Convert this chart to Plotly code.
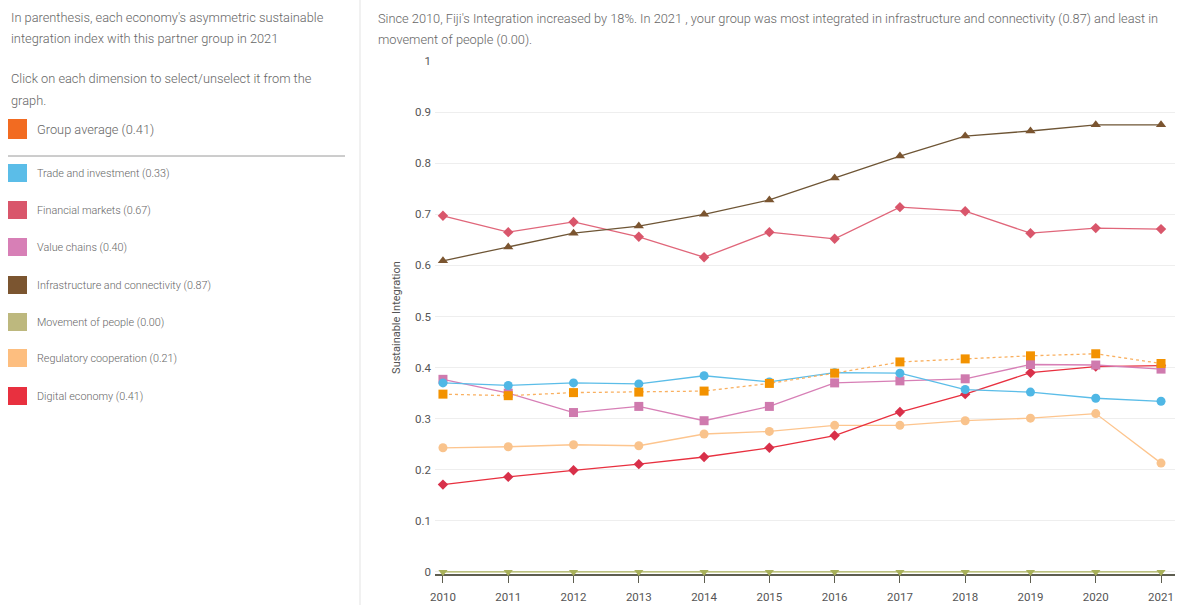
import plotly.graph_objects as go

years = [2010, 2011, 2012, 2013, 2014, 2015, 2016, 2017, 2018, 2019, 2020, 2021]

group_average = [0.348, 0.345, 0.351, 0.352, 0.354, 0.369, 0.389, 0.411, 0.417, 0.423, 0.427, 0.408]
trade_investment = [0.370, 0.365, 0.370, 0.368, 0.384, 0.372, 0.390, 0.389, 0.357, 0.352, 0.340, 0.334]
financial_markets = [0.697, 0.665, 0.685, 0.656, 0.616, 0.665, 0.652, 0.714, 0.706, 0.663, 0.673, 0.671]
value_chains = [0.377, 0.350, 0.312, 0.324, 0.296, 0.324, 0.370, 0.374, 0.378, 0.406, 0.405, 0.397]
infrastructure = [0.609, 0.636, 0.663, 0.677, 0.700, 0.728, 0.771, 0.814, 0.853, 0.863, 0.875, 0.875]
movement_people = [0, 0, 0, 0, 0, 0, 0, 0, 0, 0, 0, 0]
regulatory = [0.243, 0.245, 0.249, 0.247, 0.270, 0.275, 0.287, 0.287, 0.296, 0.301, 0.310, 0.213]
digital_economy = [0.171, 0.186, 0.199, 0.211, 0.225, 0.243, 0.267, 0.313, 0.348, 0.390, 0.402, 0.404]

legend_items = [
    ("Trade and investment (0.33)", "#5BBDE8"),
    ("Financial markets (0.67)", "#D9566B"),
    ("Value chains (0.40)", "#D77FB6"),
    ("Infrastructure and connectivity (0.87)", "#7B5530"),
    ("Movement of people (0.00)", "#BDB87E"),
    ("Regulatory cooperation (0.21)", "#FDBE7F"),
    ("Digital economy (0.41)", "#E8303F"),
]

series = [
    ("Movement of people", movement_people, "#A9B15A", "#A9B15A", "triangle-down", 8, "solid"),
    ("Regulatory cooperation", regulatory, "#FDC58E", "#F9C38C", "circle", 9, "solid"),
    ("Digital economy", digital_economy, "#E8303F", "#D8304A", "diamond", 8, "solid"),
    ("Value chains", value_chains, "#D77FB6", "#CF7AAE", "square", 9, "solid"),
    ("Trade and investment", trade_investment, "#5BBDE8", "#4FB7E5", "circle", 9, "solid"),
    ("Financial markets", financial_markets, "#E0667A", "#D9566B", "diamond", 8, "solid"),
    ("Infrastructure and connectivity", infrastructure, "#6E5535", "#7B5530", "triangle-up", 9, "solid"),
    ("Group average", group_average, "#F9B060", "#F39200", "square", 9, "3px,3px"),
]

fig = go.Figure()
for name, vals, lc, mc, sym, sz, dash in series:
    fig.add_trace(go.Scatter(
        x=years, y=vals, name=name, mode="lines+markers",
        line=dict(color=lc, width=1.3, dash=dash),
        marker=dict(color=mc, symbol=sym, size=sz),
        cliponaxis=False, showlegend=False,
    ))

W, H = 1180, 605
ML, MR, MT, MB = 435, 5, 61, 31
PW, PH = W - ML - MR, H - MT - MB
grey = "#666666"
fnt = "Roboto, Arial, sans-serif"

fig.update_layout(
    width=W, height=H,
    margin=dict(l=ML, r=MR, t=MT, b=MB, autoexpand=False),
    paper_bgcolor="white", plot_bgcolor="white",
    font=dict(family=fnt, color=grey, size=11),
    xaxis=dict(
        range=[2009.878, 2021.214], tickmode="array", tickvals=years,
        ticktext=[str(y) for y in years], automargin=False, layer="below traces",
        showgrid=False, zeroline=False,
        showline=True, linecolor="#5E5E50", linewidth=2,
        ticks="outside", ticklen=7, tickcolor="#5E5E50", tickwidth=1,
        tickfont=dict(size=11.5, color="#555555"), ticklabelstandoff=4,
    ),
    yaxis=dict(
        range=[-0.004, 1], tickvals=[0, 0.1, 0.2, 0.3, 0.4, 0.5, 0.6, 0.7, 0.8, 0.9, 1],
        ticktext=["0", "0.1", "0.2", "0.3", "0.4", "0.5", "0.6", "0.7", "0.8", "0.9", "1"],
        showgrid=True, gridcolor="#EEEEEE", gridwidth=1, zeroline=False, automargin=False,
        ticks="", tickfont=dict(size=11.5, color="#555555"), ticklabelstandoff=3,
        title=dict(text="Sustainable Integration", font=dict(size=11, color="#555555"), standoff=12),
    ),
)

def px_x(x):
    return (x - ML) / PW

def px_y(y):
    return (H - MB - y) / PH

annotations = []
shapes = []

header = [
    ("In parenthesis, each economy's asymmetric sustainable", 17),
    ("integration index with this partner group in 2021", 39),
    ("Click on each dimension to select/unselect it from the", 78),
    ("graph.", 100),
]
for txt, y in header:
    annotations.append(dict(text=txt, x=px_x(9), y=px_y(y), xref="paper", yref="paper",
                            xanchor="left", yanchor="middle", showarrow=False,
                            font=dict(size=12.8, color=grey, family=fnt, weight=300)))

shapes.append(dict(type="rect", xref="paper", yref="paper",
                   x0=px_x(8), x1=px_x(27), y0=px_y(139), y1=px_y(119),
                   fillcolor="#F26B21", line=dict(width=0)))
annotations.append(dict(text="Group average (0.41)", x=px_x(35), y=px_y(129), xref="paper", yref="paper",
                        xanchor="left", yanchor="middle", showarrow=False,
                        font=dict(size=12.8, color=grey, family=fnt, weight=300)))
shapes.append(dict(type="line", xref="paper", yref="paper",
                   x0=px_x(8), x1=px_x(345), y0=px_y(156), y1=px_y(156),
                   line=dict(color="#9A9A9A", width=1)))

item_ys = [173, 210, 247, 285, 322, 358, 396]
for (txt, col), y in zip(legend_items, item_ys):
    shapes.append(dict(type="rect", xref="paper", yref="paper",
                       x0=px_x(8), x1=px_x(27), y0=px_y(y + 9), y1=px_y(y - 9),
                       fillcolor=col, line=dict(width=0)))
    annotations.append(dict(text=txt, x=px_x(35), y=px_y(y), xref="paper", yref="paper",
                            xanchor="left", yanchor="middle", showarrow=False,
                            font=dict(size=10.8, color=grey, family=fnt, weight=300)))

shapes.append(dict(type="line", xref="paper", yref="paper",
                   x0=px_x(360), x1=px_x(360), y0=px_y(605), y1=px_y(0),
                   line=dict(color="#E3E3E3", width=1)))

desc = [
    ("Since 2010, Fiji's Integration increased by 18%. In 2021 , your group was most integrated in infrastructure and connectivity (0.87) and least in", 18),
    ("movement of people (0.00).", 40),
]
for txt, y in desc:
    annotations.append(dict(text=txt, x=px_x(376), y=px_y(y), xref="paper", yref="paper",
                            xanchor="left", yanchor="middle", showarrow=False,
                            font=dict(size=12.8, color=grey, family=fnt, weight=300)))

fig.update_layout(annotations=annotations, shapes=shapes)
fig.write_html("out.html", config={"displayModeBar": False},
               post_script="document.body.style.margin='0';document.body.style.padding='0';")
